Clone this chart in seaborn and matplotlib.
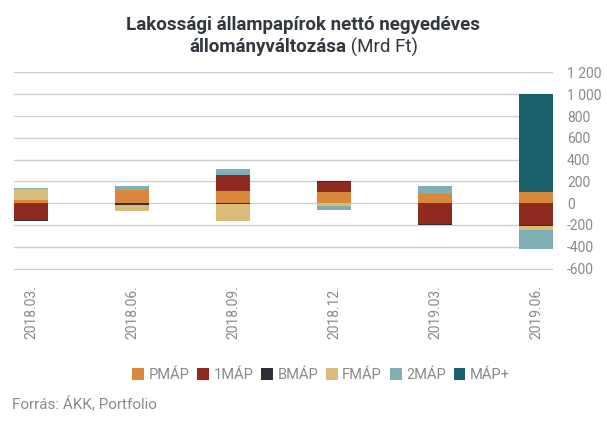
import matplotlib
matplotlib.use("Agg")
import matplotlib.pyplot as plt
import numpy as np
import seaborn as sns
from matplotlib.patches import Patch
from matplotlib.ticker import FuncFormatter

# quarter labels
quarters = ["2018.03.", "2018.06.", "2018.09.", "2018.12.", "2019.03.", "2019.06."]

# net change per instrument, Mrd Ft
pmap = [30, 123, 113, 104, 86, 104]
egymap = [-150, 0, 147, 92, -195, -203]
bmap = [-10, -18, -12, 12, -9, -9]
fmap = [100, -52, -153, -25, 0, -37]
ketmap = [10, 37, 55, -40, 74, -175]
mapplus = [0, 0, 0, 0, 0, 896]

series_names = ["PMÁP", "1MÁP", "BMÁP", "FMÁP", "2MÁP", "MÁP+"]
series_vals = [pmap, egymap, bmap, fmap, ketmap, mapplus]
colors = ["#DA883B", "#8E2A1E", "#2E3038", "#D9BC78", "#7FAFB5", "#1A5F6C"]

sns.set_style("white")
plt.rcParams["font.family"] = ["Roboto", "DejaVu Sans"]

grey = "#8a8a8a"
fig = plt.figure(figsize=(6.07, 4.23), dpi=100)
ax = fig.add_axes([14 / 607, 1 - 269.5 / 423, (553 - 14) / 607, (269.5 - 72.5) / 423])

pos_base = np.zeros(len(quarters))
neg_base = np.zeros(len(quarters))
for name, vals, col in zip(series_names, series_vals, colors):
    v = np.array(vals, dtype=float)
    bottom = np.where(v >= 0, pos_base, neg_base)
    sns.barplot(x=quarters, y=v, bottom=bottom, color=col, saturation=1,
                width=0.337, ax=ax, linewidth=0, zorder=3)
    pos_base += np.where(v > 0, v, 0)
    neg_base += np.where(v < 0, v, 0)

ax.set_xlim(-0.1685, 5.1685)
ax.set_ylim(-609, 1200)
ax.set_yticks(range(-600, 1201, 200))
ax.yaxis.set_major_formatter(FuncFormatter(lambda y, p: f"{int(y):,}".replace(",", " ")))
ax.yaxis.tick_right()
ax.grid(axis="y", color="#cfcfcf", linewidth=1, zorder=0)
ax.set_axisbelow(True)
for s in ax.spines.values():
    s.set_visible(False)
ax.tick_params(axis="y", length=0, pad=10, labelsize=10, labelcolor=grey)
ax.tick_params(axis="x", length=0, pad=11, labelsize=10, labelcolor=grey)
for lab in ax.get_yticklabels():
    lab.set_horizontalalignment("left")
plt.setp(ax.get_xticklabels(), rotation=90)
ax.set_xlabel("")
ax.set_ylabel("")

# title: bold first line, mixed second line
title_col = "#333740"
fig.text(0.5, 1 - 25 / 423, "Lakossági állampapírok nettó negyedéves", ha="center",
         va="center", fontsize=13.5, fontweight="bold", color=title_col)
t_bold = fig.text(0.5, 1 - 47 / 423, "állományváltozása", ha="left", va="center",
                  fontsize=13.5, fontweight="bold", color=title_col)
t_reg = fig.text(0.5, 1 - 47 / 423, " (Mrd Ft)", ha="left", va="center",
                 fontsize=13.5, color=title_col)
fig.canvas.draw()
r = fig.canvas.get_renderer()
wb = t_bold.get_window_extent(r).width
wr = t_reg.get_window_extent(r).width
W = fig.bbox.width
x0 = 0.5 * W - (wb + wr) / 2
t_bold.set_x(x0 / W)
t_reg.set_x((x0 + wb) / W)

handles = [Patch(facecolor=c, edgecolor="none", label=n) for n, c in zip(series_names, colors)]
fig.legend(handles=handles, loc="center", bbox_to_anchor=(0.529, 1 - 375 / 423), ncol=6,
           frameon=False, fontsize=10.5, handlelength=0.8, handleheight=0.8,
           handletextpad=0.3, columnspacing=0.55, labelcolor=grey)

fig.text(12 / 607, 1 - 405 / 423, "Forrás: ÁKK, Portfolio", ha="left", va="center",
         fontsize=11, color=grey)

fig.savefig("out.png", dpi=100)
